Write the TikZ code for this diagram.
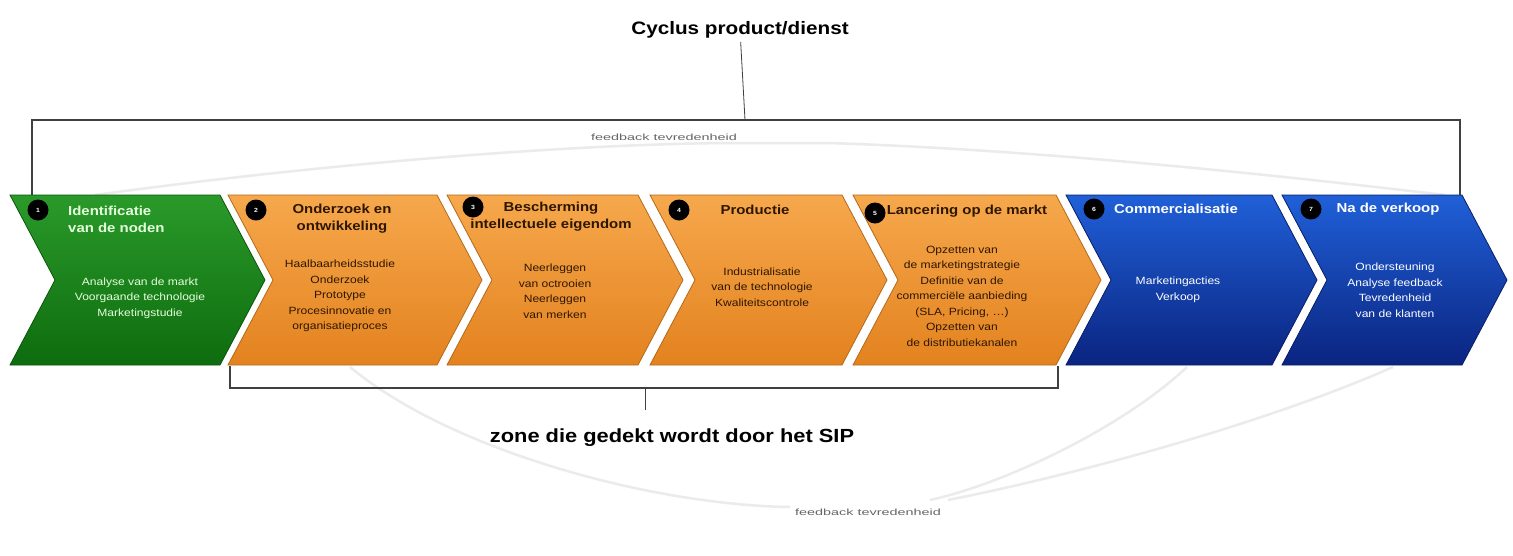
\documentclass[tikz,border=0pt]{standalone}
\usepackage{fontspec}
\setmainfont{Liberation Sans}[FakeStretch=1.15]
\newfontfamily\widefont{Liberation Sans}[FakeStretch=1.6]

\definecolor{gtop}{HTML}{2A9A2A}
\definecolor{gbot}{HTML}{0E6C0E}
\definecolor{otop}{HTML}{F6A84C}
\definecolor{obot}{HTML}{E3821F}
\definecolor{btop}{HTML}{2060D8}
\definecolor{bbot}{HTML}{0A2480}
\definecolor{lightgreen}{HTML}{E4FFDC}
\definecolor{darkbrown}{HTML}{2E1600}

\begin{document}
\begin{tikzpicture}[x=1pt, y=-1pt]
    \tikzstyle{stagetitle} = [font=\fontsize{13}{17}\selectfont\bfseries, align=center, inner sep=0pt]
    \tikzstyle{stagebody} = [font=\fontsize{10.5}{15.5}\selectfont, align=center, inner sep=0pt]
    \tikzstyle{numdot} = [circle, fill=black, inner sep=0pt, minimum size=21pt, text=white, font=\fontsize{6}{6}\selectfont\bfseries]
    \tikzstyle{heading} = [font=\fontsize{18}{20}\selectfont\bfseries]
    \tikzstyle{fbtext} = [font=\widefont\fontsize{9}{10}\selectfont, text=black!60]
    \tikzstyle{faint} = [black!8, line width=2.5pt]

    \fill[white] (0,0) rectangle (1513,555);
    \useasboundingbox (0,0) rectangle (1513,555);

    % Feedback curves
    \draw[faint] (95,195) .. controls (350,160) and (600,143) .. (738,143) -- (828,143) .. controls (1050,150) and (1300,178) .. (1445,195);
    \draw[faint] (350,367) .. controls (450,450) and (650,505) .. (790,507);
    \draw[faint] (1187,367) .. controls (1120,430) and (1000,485) .. (930,500);
    \draw[faint] (1393,367) .. controls (1250,430) and (1050,480) .. (948,500);

    % Chevrons
    \foreach \lx/\rx/\ct/\cb in {10/220/gtop/gbot, 228/437/otop/obot, 447/638/otop/obot, 650/842/otop/obot,
                                 853/1056/otop/obot, 1066/1272/btop/bbot, 1282/1462/btop/bbot} {
        \shade[top color=\ct, bottom color=\cb, draw=\cb!80!black, line width=0.8pt]
            (\lx,195) -- (\rx,195) -- (\rx+45,280) -- (\rx,365) -- (\lx,365) -- (\lx+45,280) -- cycle;
    }

    % Step numbers
    \foreach \i/\x/\y in {1/38/210, 2/256/210, 3/473/207, 4/679/210, 5/875/213, 6/1094/209, 7/1311/209} {
        \node[numdot] (n\i) at (\x,\y) {\i};
    }

    % Stage titles
    \node[stagetitle, anchor=west, align=left, text=lightgreen] (t1) at (68,219) {Identificatie\\van de noden};
    \node[stagetitle, text=darkbrown] (t2) at (342,219) {Onderzoek en\\ontwikkeling};
    \node[stagetitle, text=darkbrown] (t3) at (551,217) {Bescherming\\intellectuele eigendom};
    \node[stagetitle, text=darkbrown] (t4) at (755,210) {Productie};
    \node[stagetitle, text=darkbrown] (t5) at (967,211) {Lancering op de markt};
    \node[stagetitle, text=white] (t6) at (1176,209) {Commercialisatie};
    \node[stagetitle, text=white] (t7) at (1388,209) {Na de verkoop};

    % Stage contents
    \node[stagebody, text=lightgreen] (b1) at (140,298) {Analyse van de markt\\Voorgaande technologie\\Marketingstudie};
    \node[stagebody, text=darkbrown] (b2) at (340,296) {Haalbaarheidsstudie\\Onderzoek\\Prototype\\Procesinnovatie en\\organisatieproces};
    \node[stagebody, text=darkbrown] (b3) at (555,291) {Neerleggen\\van octrooien\\Neerleggen\\van merken};
    \node[stagebody, text=darkbrown] (b4) at (762,287) {Industrialisatie\\van de technologie\\Kwaliteitscontrole};
    \node[stagebody, text=darkbrown] (b5) at (962,296) {Opzetten van\\de marketingstrategie\\Definitie van de\\commerciële aanbieding\\(SLA, Pricing, \dots)\\Opzetten van\\de distributiekanalen};
    \node[stagebody, text=white] (b6) at (1178,290) {Marketingacties\\Verkoop};
    \node[stagebody, text=white] (b7) at (1395,290) {Ondersteuning\\Analyse feedback\\Tevredenheid\\van de klanten};

    % Top bracket
    \node[heading] (cyc) at (740,30) {Cyclus product/dienst};
    \coordinate (tl) at (32,195);
    \coordinate (tr) at (1460,195);
    \coordinate (tm) at (745,120);
    \draw[black!75, line width=1.5pt] (tl) |- (tm) -| (tr);
    \draw[black!75, line width=0.8pt] (cyc) -- (tm);
    \node[fbtext] (fbtop) at (664,137) {feedback tevredenheid};

    % Bottom bracket
    \coordinate (bl) at (230,366);
    \coordinate (br) at (1058,366);
    \coordinate (bm) at (645,388);
    \coordinate (bt) at (645,410);
    \draw[black!75, line width=1.5pt] (bl) |- (bm) -| (br);
    \draw[black!75, line width=0.8pt] (bm) -- (bt);
    \node[heading, font=\fontsize{19}{21}\selectfont\bfseries] (sip) at (672,438) {zone die gedekt wordt door het SIP};
    \node[fbtext] (fbbot) at (868,512) {feedback tevredenheid};
\end{tikzpicture}
\end{document}
